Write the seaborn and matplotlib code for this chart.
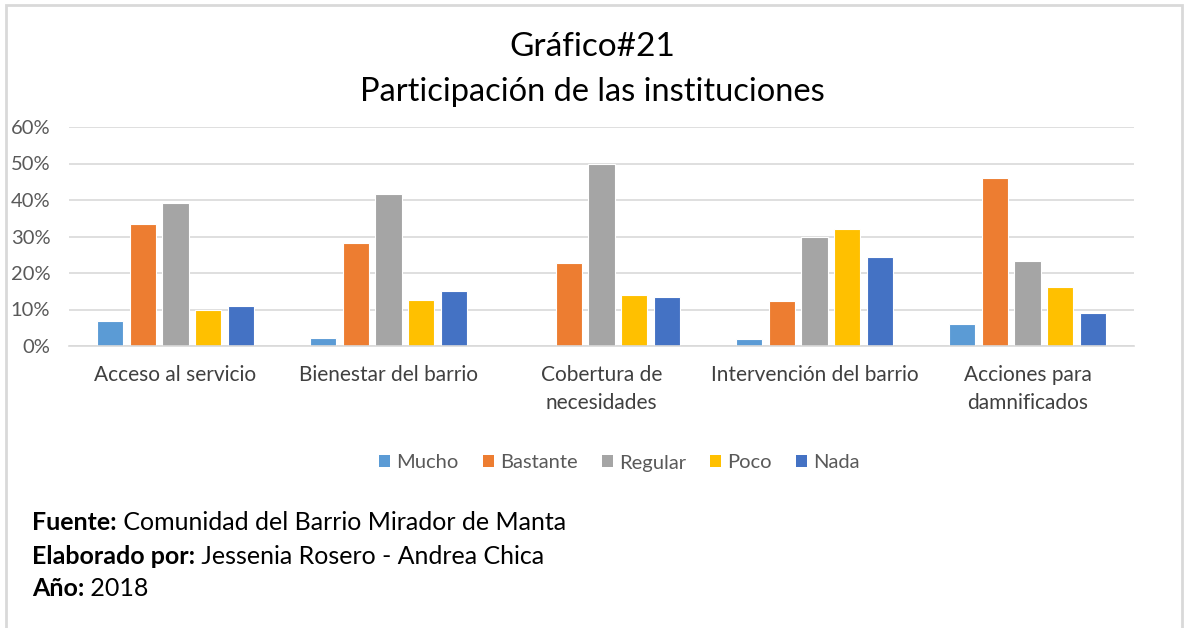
import matplotlib
matplotlib.use("Agg")
import matplotlib.pyplot as plt
import seaborn as sns
import pandas as pd
from matplotlib.patches import Patch, Rectangle
from matplotlib.ticker import PercentFormatter

categories = ["Acceso al servicio", "Bienestar del barrio", "Cobertura de\nnecesidades",
              "Intervención del barrio", "Acciones para\ndamnificados"]
levels = ["Mucho", "Bastante", "Regular", "Poco", "Nada"]
mucho = [0.069, 0.023, 0.0, 0.018, 0.059]
bastante = [0.334, 0.283, 0.227, 0.124, 0.459]
regular = [0.391, 0.416, 0.500, 0.300, 0.233]
poco = [0.100, 0.125, 0.141, 0.320, 0.161]
nada = [0.110, 0.152, 0.135, 0.243, 0.090]
colors = ["#5B9BD5", "#ED7D31", "#A5A5A5", "#FFC000", "#4472C4"]

series = [mucho, bastante, regular, poco, nada]
rows = []
for lvl, vals in zip(levels, series):
    for cat, v in zip(categories, vals):
        rows.append({"Categoria": cat, "Nivel": lvl, "Valor": v})
df = pd.DataFrame(rows)

sns.set_theme(style="white")
FONT = ["Lato", "DejaVu Sans"]
plt.rcParams["font.family"] = FONT

fig = plt.figure(figsize=(11.84, 6.28), dpi=100)
ax = fig.add_axes([69/1184, 1-346/628, (1134-69)/1184, (346-127)/628])

sns.barplot(data=df, x="Categoria", y="Valor", hue="Nivel", order=categories,
            hue_order=levels, palette=colors, width=0.77, gap=0.2,
            edgecolor="white", linewidth=0.8, ax=ax, legend=False, saturation=1)

ax.set_ylim(0, 0.6)
ax.set_yticks([0, 0.1, 0.2, 0.3, 0.4, 0.5, 0.6])
ax.yaxis.set_major_formatter(PercentFormatter(1.0, decimals=0))
ax.grid(axis="y", color="#D9D9D9", linewidth=1.2)
ax.set_axisbelow(True)
for s in ["top", "right", "left"]:
    ax.spines[s].set_visible(False)
ax.spines["bottom"].set_color("#D9D9D9")
ax.spines["bottom"].set_linewidth(1.2)
ax.set_xlabel("")
ax.set_ylabel("")
ax.tick_params(axis="y", colors="#595959", labelsize=14.5, length=0, pad=13.5)
ax.tick_params(axis="x", colors="#404040", labelsize=15, length=0, pad=14)
for lab in ax.get_yticklabels():
    lab.set_color("#595959")
for lab in ax.get_xticklabels():
    lab.set_color("#404040")
    lab.set_linespacing(1.5)

fig.text(0.5, 1-47/628, "Gráfico#21", ha="center", va="center", fontsize=24, color="#000000")
fig.text(0.5, 1-92/628, "Participación de las instituciones", ha="center", va="center",
         fontsize=23.5, color="#000000")

handles = [Patch(facecolor=c, edgecolor="none") for c in colors]
fig.legend(handles, levels, loc="center", bbox_to_anchor=(0.523, 1-463/628), ncol=5,
           frameon=False, fontsize=14.5, handlelength=0.55, handleheight=0.55,
           handletextpad=0.3, columnspacing=1.2, labelcolor="#595959")

footer = [("Fuente:", " Comunidad del Barrio Mirador de Manta", 522),
          ("Elaborado por:", " Jessenia Rosero - Andrea Chica", 556),
          ("Año:", " 2018", 589)]
for b, r, y in footer:
    t = fig.text(32/1184, 1-y/628, b, ha="left", va="center", fontsize=18,
                 fontweight="bold", color="#000000")
    ax.annotate(r, xy=(1, 0), xycoords=t, ha="left", va="bottom", fontsize=18,
                color="#000000", annotation_clip=False)

fig.patches.append(Rectangle((6/1184, -0.05), (1182-6)/1184, 1-5/628+0.05,
                             transform=fig.transFigure, fill=False,
                             edgecolor="#D9D9D9", linewidth=2, figure=fig))

fig.savefig("out.png", dpi=100, facecolor="white")
